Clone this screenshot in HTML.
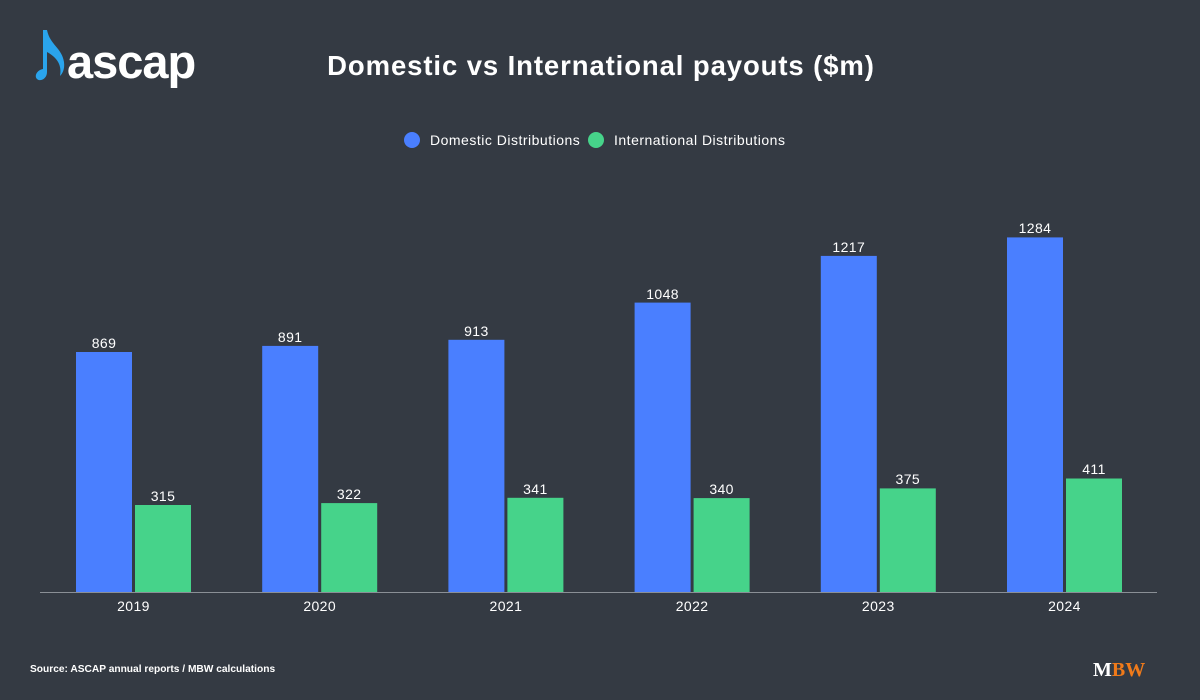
<!DOCTYPE html>
<html><head><meta charset="utf-8"><style>
html,body{margin:0;padding:0;background:#343a43;}
svg{display:block;font-family:"Liberation Sans",sans-serif;}
</style></head><body>
<svg width="1200" height="700" xmlns="http://www.w3.org/2000/svg">
<rect width="1200" height="700" fill="#343a43"/>
<path d="M43 30 L47 30 C50 45 62 48 64 62 C65 70 62 74 60 76 C62 66 58 58 47 52 L47 72 C47 79 40 82 37 79 C34 76 37 70 43 69 Z" fill="#2aa4ec"/>
<text x="67" y="78" font-size="47" font-weight="bold" fill="#ffffff" letter-spacing="-1">ascap</text>
<text x="601" y="75" text-anchor="middle" font-size="27.5" font-weight="bold" fill="#ffffff" letter-spacing="0.9">Domestic vs International payouts ($m)</text>
<circle cx="412" cy="140" r="8" fill="#4a7fff"/>
<text x="430" y="145" font-size="14" fill="#ffffff" letter-spacing="0.5">Domestic Distributions</text>
<circle cx="596" cy="140" r="8" fill="#46d38a"/>
<text x="614" y="145" font-size="14" fill="#ffffff" letter-spacing="0.5">International Distributions</text>
<g font-size="14" fill="#ffffff" text-anchor="middle" letter-spacing="0.4">
<rect x="76" y="352" width="56" height="240" fill="#4a7fff"/><text x="104" y="348">869</text>
<rect x="135" y="505" width="56" height="87" fill="#46d38a"/><text x="163" y="501">315</text>
<rect x="262.2" y="345.9" width="56" height="246.1" fill="#4a7fff"/><text x="290.2" y="342">891</text>
<rect x="321.2" y="503.1" width="56" height="88.9" fill="#46d38a"/><text x="349.2" y="499">322</text>
<rect x="448.4" y="339.8" width="56" height="252.2" fill="#4a7fff"/><text x="476.4" y="336">913</text>
<rect x="507.4" y="497.8" width="56" height="94.2" fill="#46d38a"/><text x="535.4" y="494">341</text>
<rect x="634.6" y="302.6" width="56" height="289.4" fill="#4a7fff"/><text x="662.6" y="299">1048</text>
<rect x="693.6" y="498.1" width="56" height="93.9" fill="#46d38a"/><text x="721.6" y="494">340</text>
<rect x="820.8" y="255.9" width="56" height="336.1" fill="#4a7fff"/><text x="848.8" y="252">1217</text>
<rect x="879.8" y="488.4" width="56" height="103.6" fill="#46d38a"/><text x="907.8" y="484">375</text>
<rect x="1007" y="237.4" width="56" height="354.6" fill="#4a7fff"/><text x="1035" y="233">1284</text>
<rect x="1066" y="478.5" width="56" height="113.5" fill="#46d38a"/><text x="1094" y="474">411</text>
<line x1="40" y1="592.5" x2="1157" y2="592.5" stroke="#8a8f96" stroke-width="1"/>
<text x="133.5" y="611">2019</text>
<text x="319.7" y="611">2020</text>
<text x="505.9" y="611">2021</text>
<text x="692.1" y="611">2022</text>
<text x="878.3" y="611">2023</text>
<text x="1064.5" y="611">2024</text>
</g>
<text x="30" y="672" font-size="10.2" font-weight="bold" fill="#ffffff">Source: ASCAP annual reports / MBW calculations</text>
<text x="1093" y="676" font-size="20" font-weight="bold" font-family="Liberation Serif,serif" fill="#ffffff">M<tspan fill="#f07a1a">BW</tspan></text>
</svg>
</body></html>
